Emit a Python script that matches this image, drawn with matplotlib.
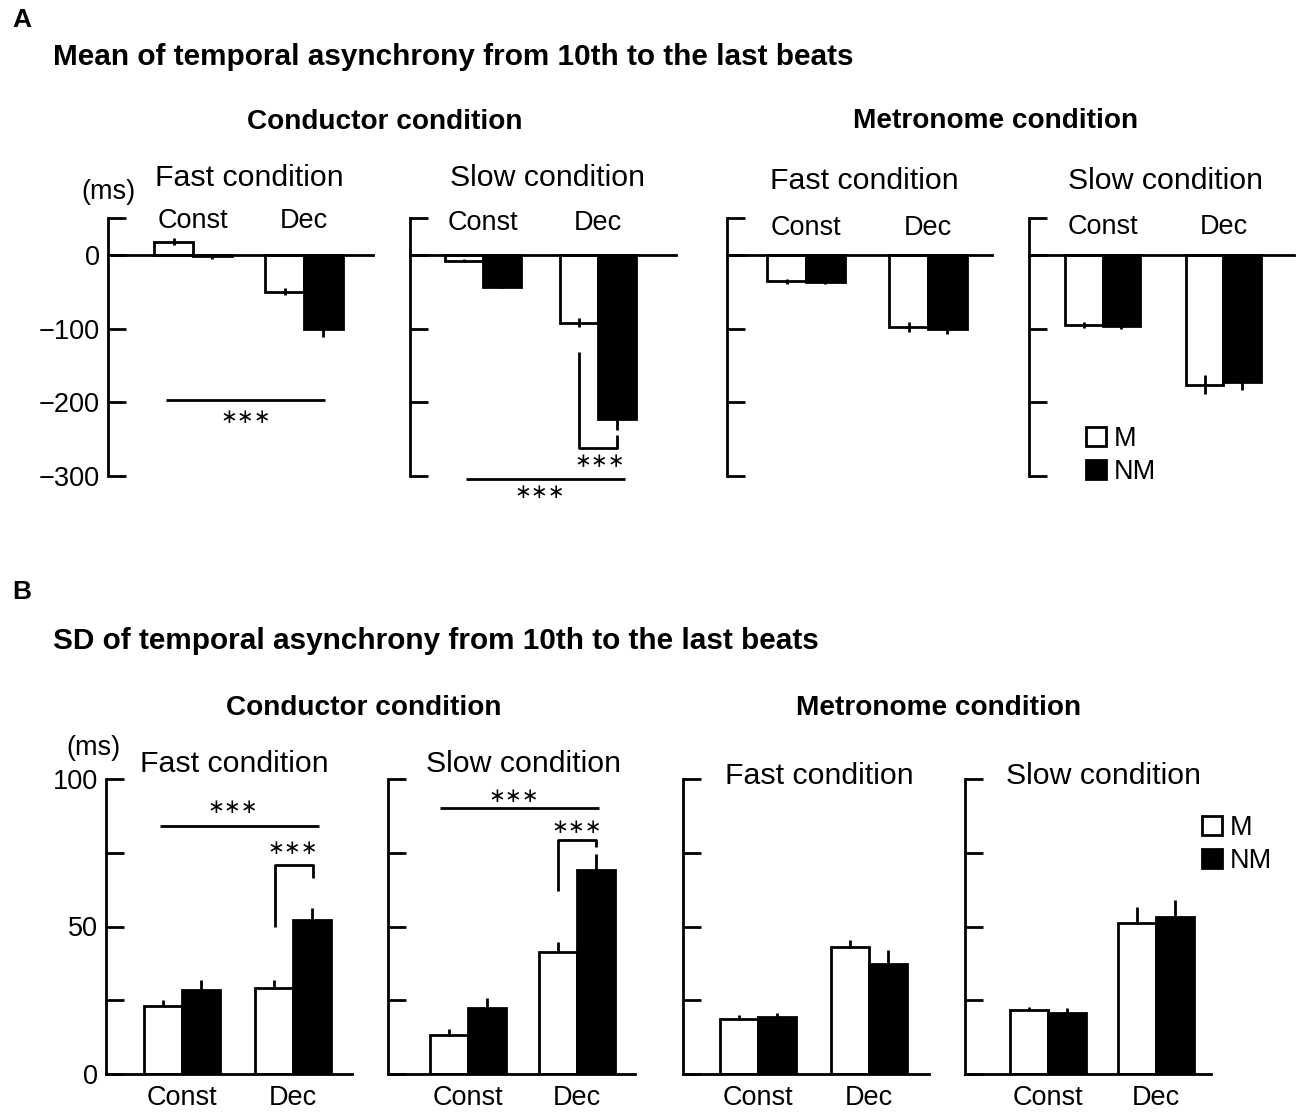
import numpy as np
import matplotlib.pyplot as plt
from matplotlib.patches import Patch

plt.rcParams['font.family'] = ['Liberation Sans', 'DejaVu Sans']

groups = ['Const', 'Dec']

# A: mean of temporal asynchrony (ms), order = Const, Dec
a_cond_fast_m = [18, -50]
a_cond_fast_nm = [-2, -101]
a_cond_fast_m_err = [5, 5]
a_cond_fast_nm_err = [3, 11]

a_cond_slow_m = [-8, -92]
a_cond_slow_nm = [-43, -223]
a_cond_slow_m_err = [2, 6]
a_cond_slow_nm_err = [2, 15]

a_metro_fast_m = [-36, -98]
a_metro_fast_nm = [-37, -100]
a_metro_fast_m_err = [3, 7]
a_metro_fast_nm_err = [3, 8]

a_metro_slow_m = [-95, -176]
a_metro_slow_nm = [-97, -173]
a_metro_slow_m_err = [4, 13]
a_metro_slow_nm_err = [4, 11]

# B: SD of temporal asynchrony (ms)
b_cond_fast_m = [23, 29.3]
b_cond_fast_nm = [28.5, 52.3]
b_cond_fast_m_err = [2, 2.7]
b_cond_fast_nm_err = [3.2, 3.9]

b_cond_slow_m = [13.3, 41.3]
b_cond_slow_nm = [22.4, 69]
b_cond_slow_m_err = [1.9, 3.6]
b_cond_slow_nm_err = [3.3, 5.6]

b_metro_fast_m = [18.7, 43.1]
b_metro_fast_nm = [19.3, 37.4]
b_metro_fast_m_err = [1.2, 2.3]
b_metro_fast_nm_err = [1.3, 4.8]

b_metro_slow_m = [21.6, 51.1]
b_metro_slow_nm = [20.6, 53.1]
b_metro_slow_m_err = [1.1, 5.6]
b_metro_slow_nm_err = [1.9, 5.9]

a_yticks = [50, 0, -100, -200, -300]
a_yticklabels = ['', '0', '\u2212100', '\u2212200', '\u2212300']
b_yticks = [0, 25, 50, 75, 100]
b_yticklabels = ['0', '', '50', '', '100']

# significance marks (x in group units, y in ms)
a1_lines = [[(-0.24, -197), (1.19, -197)]]
a1_stars = [(0.477, -220)]
a2_lines = [[(0.835, -132), (0.835, -262), (1.165, -262), (1.165, -245)],
            [(-0.148, -304), (1.235, -304)]]
a2_stars = [(1.017, -280), (0.496, -323)]
b1_lines = [[(-0.198, 84.2), (1.234, 84.2)],
            [(0.835, 49.8), (0.835, 71), (1.178, 71), (1.178, 66.4)]]
b1_stars = [(0.46, 90.2), (1.0, 76.6)]
b2_lines = [[(-0.253, 90.1), (1.201, 90.1)],
            [(0.829, 62.2), (0.829, 79.4), (1.174, 79.4), (1.174, 76.9)]]
b2_stars = [(0.42, 94.0), (1.0, 83.4)]

W, H = 1300, 1114
fig = plt.figure(figsize=(W / 100, H / 100), dpi=100)


def rect(l, r, t, b):
    return [l / W, 1 - b / H, (r - l) / W, (b - t) / H]


def ftext(x, y, s, **kw):
    fig.text(x / W, 1 - y / H, s, **kw)


LW = 2.0
x = np.arange(len(groups))


def draw(ax, m, nm, m_err, nm_err, xlim, w, panel):
    ax.bar(x - w / 2, m, w, color='white', edgecolor='black', linewidth=LW, zorder=2)
    ax.bar(x + w / 2, nm, w, color='black', edgecolor='black', linewidth=LW, zorder=2)
    if panel == 'A':
        ax.errorbar(x - w / 2, m, yerr=m_err, fmt='none', ecolor='black',
                    elinewidth=LW, capsize=0, zorder=3)
        ax.errorbar(x + w / 2, nm, yerr=nm_err, fmt='none', ecolor='black',
                    elinewidth=LW, capsize=0, zorder=3)
    else:
        ax.errorbar(x - w / 2, m, yerr=[np.zeros(2), m_err], fmt='none', ecolor='black',
                    elinewidth=LW, capsize=0, zorder=1)
        ax.errorbar(x + w / 2, nm, yerr=[np.zeros(2), nm_err], fmt='none', ecolor='black',
                    elinewidth=LW, capsize=0, zorder=1)
    ax.set_xlim(xlim)
    ax.spines['top'].set_visible(False)
    ax.spines['right'].set_visible(False)
    ax.spines['left'].set_linewidth(LW)
    ax.spines['bottom'].set_linewidth(LW)
    ax.tick_params(axis='y', direction='in', length=13, width=LW, labelsize=19.5, pad=6)
    if panel == 'A':
        ax.set_ylim(-300, 50)
        ax.spines['bottom'].set_position(('data', 0))
        ax.set_xticks([])
        ax.set_yticks(a_yticks)
        ax.set_yticklabels(a_yticklabels)
    else:
        ax.set_ylim(0, 100)
        ax.set_xticks(x)
        ax.set_xticklabels(groups, fontsize=19.5)
        ax.tick_params(axis='x', length=0, pad=8)
        ax.set_yticks(b_yticks)
        ax.set_yticklabels(b_yticklabels)


def marks(ax, lines, stars):
    for seg in lines:
        xs, ys = zip(*seg)
        ax.plot(xs, ys, color='black', lw=LW, clip_on=False, solid_capstyle='butt')
    for sx, sy in stars:
        ax.text(sx, sy, '\u2217\u2217\u2217', ha='center', va='center', fontsize=14.5,
                family='DejaVu Sans', clip_on=False)


# ---- Panel A ----
a_rects = [rect(108, 373, 218, 476), rect(410, 676, 218, 476),
           rect(727, 992, 218, 476), rect(1029, 1294, 218, 476)]
a_xlims = [(-0.766, 1.622), (-0.635, 1.678), (-0.648, 1.525), (-0.611, 1.586)]
a_widths = [0.351, 0.33, 0.316, 0.311]
a_label_y = [46, 43, 37, 38]
a_data = [(a_cond_fast_m, a_cond_fast_nm, a_cond_fast_m_err, a_cond_fast_nm_err),
          (a_cond_slow_m, a_cond_slow_nm, a_cond_slow_m_err, a_cond_slow_nm_err),
          (a_metro_fast_m, a_metro_fast_nm, a_metro_fast_m_err, a_metro_fast_nm_err),
          (a_metro_slow_m, a_metro_slow_nm, a_metro_slow_m_err, a_metro_slow_nm_err)]
a_axes = []
for i in range(4):
    ax = fig.add_axes(a_rects[i])
    draw(ax, *a_data[i], a_xlims[i], a_widths[i], 'A')
    if i > 0:
        ax.set_yticklabels([])
    for gx, g in zip(x, groups):
        ax.text(gx, a_label_y[i], g, ha='center', va='center', fontsize=19.5)
    a_axes.append(ax)
marks(a_axes[0], a1_lines, a1_stars)
marks(a_axes[1], a2_lines, a2_stars)

# ---- Panel B ----
b_rects = [rect(106, 352, 779, 1074), rect(388, 635, 779, 1074),
           rect(683, 929, 779, 1074), rect(965, 1211, 779, 1074)]
b_xlims = [(-0.685, 1.532), (-0.729, 1.531), (-0.669, 1.535), (-0.764, 1.508)]
b_widths = [0.342, 0.348, 0.341, 0.351]
b_data = [(b_cond_fast_m, b_cond_fast_nm, b_cond_fast_m_err, b_cond_fast_nm_err),
          (b_cond_slow_m, b_cond_slow_nm, b_cond_slow_m_err, b_cond_slow_nm_err),
          (b_metro_fast_m, b_metro_fast_nm, b_metro_fast_m_err, b_metro_fast_nm_err),
          (b_metro_slow_m, b_metro_slow_nm, b_metro_slow_m_err, b_metro_slow_nm_err)]
b_axes = []
for i in range(4):
    ax = fig.add_axes(b_rects[i])
    draw(ax, *b_data[i], b_xlims[i], b_widths[i], 'B')
    if i > 0:
        ax.set_yticklabels([])
    b_axes.append(ax)
marks(b_axes[0], b1_lines, b1_stars)
marks(b_axes[1], b2_lines, b2_stars)

# legends
handles = [Patch(facecolor='white', edgecolor='black', linewidth=LW, label='M'),
           Patch(facecolor='black', edgecolor='black', linewidth=LW, label='NM')]
for ax, (lx, ly) in [(a_axes[3], (1086, 426)), (b_axes[3], (1202, 815))]:
    ax.legend(handles=handles, loc='upper left', bbox_to_anchor=(lx / W, 1 - ly / H),
              bbox_transform=fig.transFigure, frameon=False, fontsize=19.5,
              handlelength=0.72, handleheight=0.72, handletextpad=0.3,
              labelspacing=0.25, borderpad=0, borderaxespad=0)

# ---- texts ----
ftext(12, 20, 'A', fontsize=19, fontweight='bold', va='center')
ftext(53, 57, 'Mean of temporal asynchrony from 10th to the last beats',
      fontsize=21.4, fontweight='bold', va='center')
ftext(385, 122, 'Conductor condition', fontsize=20.2, fontweight='bold', ha='center', va='center')
ftext(996, 121, 'Metronome condition', fontsize=20.2, fontweight='bold', ha='center', va='center')
ftext(108, 192, '(ms)', fontsize=19.5, ha='center', va='center')
ftext(249, 178, 'Fast condition', fontsize=21.8, ha='center', va='center')
ftext(547, 178, 'Slow condition', fontsize=21.8, ha='center', va='center')
ftext(864, 181, 'Fast condition', fontsize=21.8, ha='center', va='center')
ftext(1165, 181, 'Slow condition', fontsize=21.8, ha='center', va='center')

ftext(12, 592, 'B', fontsize=19, fontweight='bold', va='center')
ftext(53, 641, 'SD of temporal asynchrony from 10th to the last beats',
      fontsize=21.4, fontweight='bold', va='center')
ftext(364, 708, 'Conductor condition', fontsize=20.2, fontweight='bold', ha='center', va='center')
ftext(939, 708, 'Metronome condition', fontsize=20.2, fontweight='bold', ha='center', va='center')
ftext(93, 748, '(ms)', fontsize=19.5, ha='center', va='center')
ftext(234, 764, 'Fast condition', fontsize=21.8, ha='center', va='center')
ftext(523, 764, 'Slow condition', fontsize=21.8, ha='center', va='center')
ftext(819, 776, 'Fast condition', fontsize=21.8, ha='center', va='center')
ftext(1104, 776, 'Slow condition', fontsize=21.8, ha='center', va='center')

fig.savefig('out.png', dpi=100)
